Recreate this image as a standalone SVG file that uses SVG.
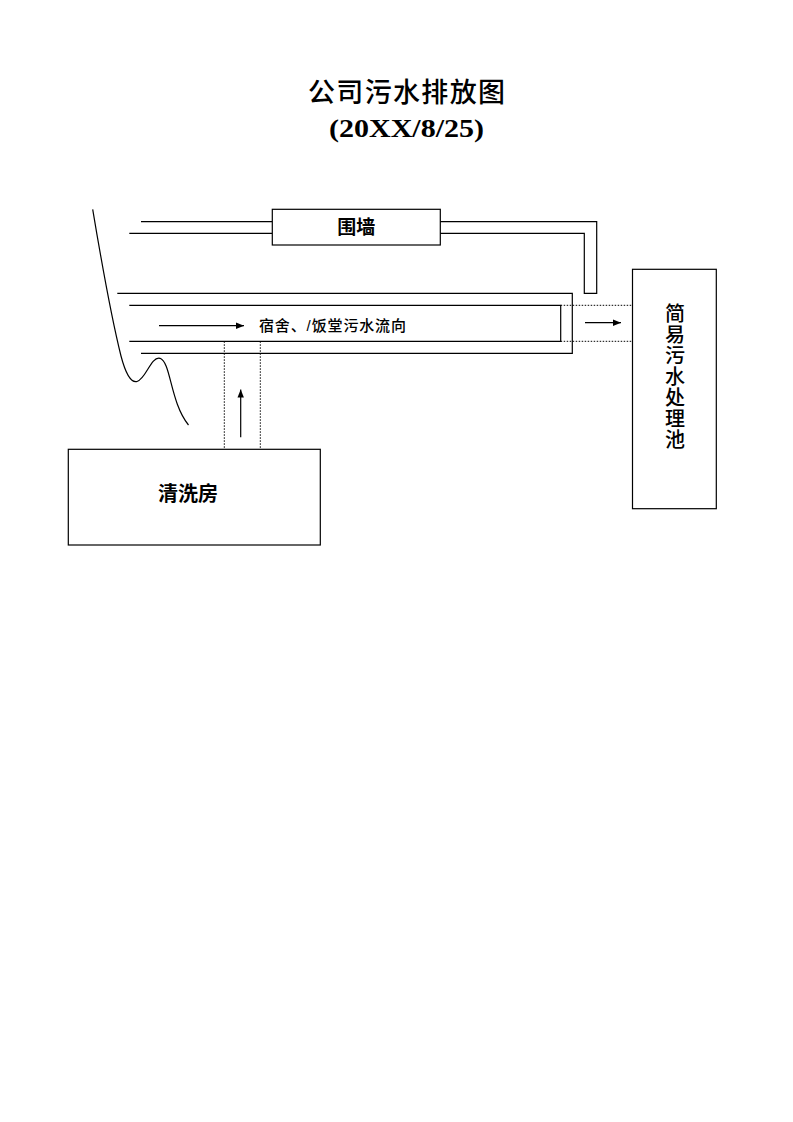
<svg xmlns="http://www.w3.org/2000/svg" width="793" height="1122" viewBox="0 0 793 1122">
<defs>
<marker id="ah" viewBox="0 0 10 10" refX="10" refY="5" markerWidth="8" markerHeight="8" markerUnits="userSpaceOnUse" orient="auto"><path d="M0,1 L10,5 L0,9 Z" fill="#000"/></marker>
<style>
.ln{fill:none;stroke:#000;stroke-width:1.2}
.dot{fill:none;stroke:#000;stroke-width:1;stroke-dasharray:1.5 1.5}
.box{fill:#fff;stroke:#000;stroke-width:1.2}
.cjk{font-family:"Liberation Sans","Noto Sans CJK SC",sans-serif;fill:#000}
</style>
</defs>
<rect width="793" height="1122" fill="#fff"/>
<g id="title">
<text class="cjk" x="406.5" y="102" font-size="27" font-weight="500" text-anchor="middle" textLength="197" lengthAdjust="spacing">公司污水排放图</text>
<text x="406.5" y="137" font-family="Liberation Serif, serif" font-weight="bold" font-size="26" text-anchor="middle" textLength="155" lengthAdjust="spacingAndGlyphs">(20XX/8/25)</text>
</g>
<g id="connectors">
<path class="ln" d="M141,221.7 H272 M129.3,233.3 H272"/>
<path class="ln" d="M440,221.7 H596.7 V293.3 H584.3 V233.3 H440"/>
<path class="ln" d="M117.3,293.3 H572.3 V353.3 H141"/>
<path class="ln" d="M129.3,305.3 H560.7 V341.3 H129.3"/>
<path class="dot" d="M560.7,305.3 H632.5 M560.7,341.3 H632.5"/>
<path class="dot" d="M224.3,341.3 V449 M260.3,341.3 V449"/>
<line class="ln" x1="159" y1="325.7" x2="244" y2="325.7" marker-end="url(#ah)"/>
<line class="ln" x1="585" y1="322.7" x2="621" y2="322.7" marker-end="url(#ah)"/>
<line class="ln" x1="240.7" y1="437.3" x2="240.7" y2="389.5" marker-end="url(#ah)"/>
<path class="ln" d="M92.7,209.3 C102,265 112,320 121,356 C126,375 131,383 137,381.5 C146,379 151,356 160,358.3 C171,362 170,402 188.5,425"/>
<text class="cjk" x="259" y="331" font-size="15" font-weight="500" textLength="147" lengthAdjust="spacing">宿舍、/饭堂污水流向</text>
</g>
<g id="wall">
<rect class="box" x="272.3" y="209.3" width="168" height="35.7"/>
<text class="cjk" x="356.3" y="234" font-size="19" font-weight="bold" text-anchor="middle">围墙</text>
</g>
<g id="pool">
<rect class="box" x="632.5" y="269.3" width="83.8" height="239.4"/>
<text class="cjk" font-size="20" font-weight="500" text-anchor="middle">
<tspan x="675" y="320.5">简</tspan><tspan x="675" y="341.6">易</tspan><tspan x="675" y="362.7">污</tspan><tspan x="675" y="383.8">水</tspan><tspan x="675" y="404.9">处</tspan><tspan x="675" y="426">理</tspan><tspan x="675" y="447.1">池</tspan>
</text>
</g>
<g id="washroom">
<rect class="box" x="68.3" y="449.3" width="252" height="95.7"/>
<text class="cjk" x="188" y="500.5" font-size="20" font-weight="bold" text-anchor="middle">清洗房</text>
</g>
</svg>
